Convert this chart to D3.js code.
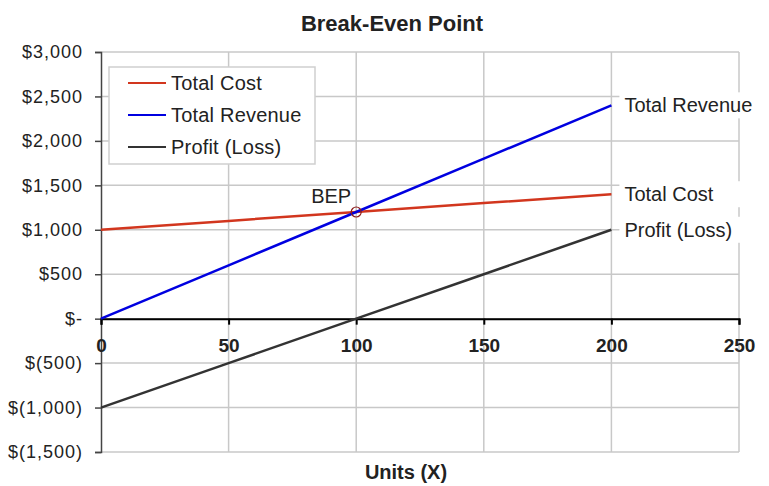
<!DOCTYPE html>
<html>
<head>
<meta charset="utf-8">
<script src="https://cdn.jsdelivr.net/npm/d3@7"></script>
<style>
  body { margin: 0; background: #fff; }
  text { font-family: "Liberation Sans", Arial, sans-serif; fill: #222; }
</style>
</head>
<body>
<div id="chart"></div>
<script>
(function(){

    var units = [0, 50, 100, 150, 200];
    var totalCost = [1000, 1100, 1200, 1300, 1400];
    var totalRevenue = [0, 600, 1200, 1800, 2400];
    var profit = [-1000, -500, 0, 500, 1000];

    var xTicks = [0, 50, 100, 150, 200, 250];
    var yTicks = [-1500, -1000, -500, 0, 500, 1000, 1500, 2000, 2500, 3000];
    var bep = {units: 100, value: 1200};

    var series = [
        {name: "Total Cost", values: totalCost, color: "#d2361e"},
        {name: "Total Revenue", values: totalRevenue, color: "#0000e0"},
        {name: "Profit (Loss)", values: profit, color: "#333333"}
    ];

    var width = 769;
    var height = 486;

    var margin = {
        top: 52,
        bottom: 34,
        left: 101,
        right: 30
    };

    var svg = d3.select("#chart")
        .append("svg")
            .attr("width", width)
            .attr("height", height);

    var x = d3.scaleLinear().domain([0, 250]).range([margin.left, width - margin.right]);
    var y = d3.scaleLinear().domain([-1500, 3000]).range([height - margin.bottom, margin.top]);

    var fmt = d3.format(",");
    function money(v) {
        if (v === 0) return "$-";
        if (v < 0) return "$(" + fmt(-v) + ")";
        return "$" + fmt(v);
    }

    // grid
    svg.append("g")
        .selectAll("line")
        .data(yTicks)
        .enter().append("line")
            .attr("x1", x(0)).attr("x2", x(250))
            .attr("y1", y).attr("y2", y)
            .attr("stroke", "#c8c8c8")
            .attr("stroke-width", 1.5);

    svg.append("g")
        .selectAll("line")
        .data(xTicks.slice(1))
        .enter().append("line")
            .attr("x1", x).attr("x2", x)
            .attr("y1", y(3000)).attr("y2", y(-1500))
            .attr("stroke", "#c8c8c8")
            .attr("stroke-width", 1.5);

    // y axis
    var yAxis = svg.append("g")
        .attr("transform", "translate(" + x(0) + ",0)")
        .call(d3.axisLeft(y).tickValues(yTicks).tickFormat(money).tickSize(6).tickPadding(12));
    yAxis.select(".domain").attr("stroke", "#444").attr("stroke-width", 1.5);
    yAxis.selectAll(".tick line").attr("stroke", "#444").attr("stroke-width", 1.5);
    yAxis.selectAll("text")
        .style("font-family", "Liberation Sans, Arial, sans-serif")
        .style("font-size", "18px")
        .style("letter-spacing", "1px")
        .attr("fill", "#222");

    // x axis at zero
    var xAxis = svg.append("g")
        .attr("transform", "translate(0," + y(0) + ")")
        .call(d3.axisBottom(x).tickValues(xTicks).tickSize(6).tickPadding(14));
    xAxis.select(".domain").attr("stroke", "#000").attr("stroke-width", 2);
    xAxis.selectAll(".tick line").attr("stroke", "#000").attr("stroke-width", 2);
    xAxis.selectAll("text")
        .style("font-family", "Liberation Sans, Arial, sans-serif")
        .style("font-size", "19px")
        .style("font-weight", "bold")
        .attr("fill", "#111");

    // lines
    var line = d3.line()
        .x(function(d, i){ return x(units[i]); })
        .y(function(d){ return y(d); });

    svg.append("g")
        .selectAll("path")
        .data(series)
        .enter().append("path")
            .attr("d", function(d){ return line(d.values); })
            .attr("fill", "none")
            .attr("stroke", function(d){ return d.color; })
            .attr("stroke-width", 2.5);

    // end labels
    var last = units.length - 1;
    var endLabels = svg.append("g")
        .selectAll("g")
        .data(series)
        .enter().append("g")
            .attr("transform", function(d){
                return "translate(" + (x(units[last]) + 13) + "," + y(d.values[last]) + ")";
            });
    endLabels.append("rect")
        .attr("x", -5).attr("y", -13)
        .attr("width", 142).attr("height", 26)
        .attr("fill", "#fff");
    endLabels.append("text")
        .attr("dy", "0.35em")
        .style("font-size", "20px")
        .text(function(d){ return d.name; });

    // BEP marker
    svg.append("circle")
        .attr("cx", x(bep.units))
        .attr("cy", y(bep.value))
        .attr("r", 5)
        .attr("fill", "none")
        .attr("stroke", "#8b1a1a")
        .attr("stroke-width", 1.2);
    svg.append("text")
        .attr("x", x(bep.units) - 5)
        .attr("y", y(bep.value) - 9)
        .attr("text-anchor", "end")
        .style("font-size", "20px")
        .attr("fill", "#333")
        .text("BEP");

    // legend
    var legend = svg.append("g")
        .attr("transform", "translate(109,67)");
    legend.append("rect")
        .attr("width", 206)
        .attr("height", 97)
        .attr("fill", "#fff")
        .attr("stroke", "#cfcfcf")
        .attr("stroke-width", 1.5);
    var item = legend.selectAll("g.item")
        .data(series)
        .enter().append("g")
            .attr("class", "item")
            .attr("transform", function(d, i){ return "translate(0," + (16 + i * 32) + ")"; });
    item.append("line")
        .attr("x1", 19).attr("x2", 57)
        .attr("stroke", function(d){ return d.color; })
        .attr("stroke-width", 2);
    item.append("text")
        .attr("x", 62)
        .attr("dy", "0.35em")
        .style("font-size", "20px")
        .style("letter-spacing", "0.2px")
        .text(function(d){ return d.name; });

    // titles
    svg.append("text")
        .attr("x", 392)
        .attr("y", 31)
        .attr("text-anchor", "middle")
        .style("font-size", "22px")
        .style("font-weight", "bold")
        .attr("fill", "#111")
        .text("Break-Even Point");

    svg.append("text")
        .attr("x", 406)
        .attr("y", 479)
        .attr("text-anchor", "middle")
        .style("font-size", "20px")
        .style("font-weight", "bold")
        .attr("fill", "#111")
        .text("Units (X)");

})();
</script>
</body>
</html>
